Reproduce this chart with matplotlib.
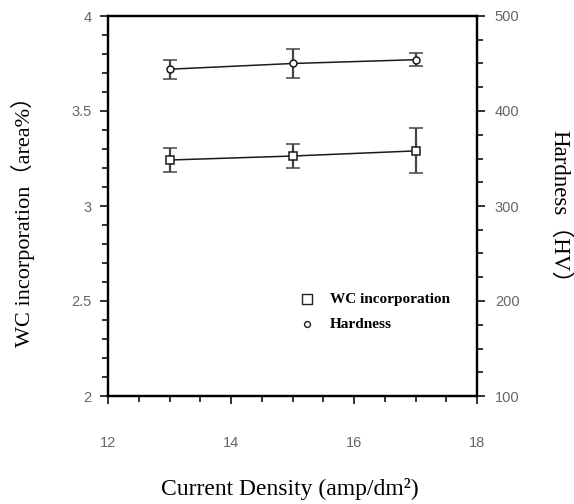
import matplotlib
matplotlib.use("Agg")
import matplotlib.pyplot as plt
from matplotlib.ticker import MultipleLocator, FuncFormatter

current = [13, 15, 17]
wc = [3.242, 3.263, 3.29]
wc_err = [0.063, 0.065, 0.118]
hardness = [444, 450, 454]
hardness_err = [10, 15, 7]

serif = ["Liberation Serif", "Noto Sans CJK SC"]
sans = "Liberation Sans"

W, H = 574, 504
fig = plt.figure(figsize=(W/100, H/100), dpi=100)
ax = fig.add_axes([108/W, 1 - 396/H, (477-108)/W, (396-16)/H])
ax2 = ax.twinx()

ax.errorbar(current, wc, yerr=wc_err, fmt='s', ms=6, mfc='white', mec='#1a1a1a', mew=1.1,
            ecolor='#444444', elinewidth=1.6, capsize=5, capthick=1.8, zorder=3, linestyle='none')
ax.plot(current, wc, color='#1a1a1a', lw=1.1, zorder=2)
ax2.errorbar(current, hardness, yerr=hardness_err, fmt='o', ms=5, mfc='white', mec='#1a1a1a', mew=1.1,
             ecolor='#444444', elinewidth=1.6, capsize=5, capthick=1.8, zorder=3, linestyle='none')
ax2.plot(current, hardness, color='#1a1a1a', lw=1.1, zorder=2)

ax.set_xlim(12, 18)
ax.set_ylim(2, 4)
ax2.set_ylim(100, 500)
ax.xaxis.set_major_locator(MultipleLocator(2))
ax.xaxis.set_minor_locator(MultipleLocator(0.5))
ax.yaxis.set_major_locator(MultipleLocator(0.5))
ax.yaxis.set_minor_locator(MultipleLocator(0.1))
ax2.yaxis.set_major_locator(MultipleLocator(100))
ax2.yaxis.set_minor_locator(MultipleLocator(25))
fmt = FuncFormatter(lambda v, p: "%g" % v)
ax.yaxis.set_major_formatter(fmt)
ax.xaxis.set_major_formatter(fmt)
ax2.yaxis.set_major_formatter(fmt)

for a in (ax, ax2):
    for s in a.spines.values():
        s.set_linewidth(1.6)
        s.set_color('black')
    a.tick_params(which='both', direction='out', color='#333333', width=1.4,
                  labelcolor='#666666', labelsize=10.5)
    a.tick_params(which='major', length=5.8)
    a.tick_params(which='minor', length=4.3)
ax.tick_params(axis='x', pad=23)
ax.tick_params(axis='y', pad=6)
ax2.tick_params(axis='y', pad=7)
for lab in ax.get_xticklabels() + ax.get_yticklabels() + ax2.get_yticklabels():
    lab.set_family(sans)

fig.text(290/W, 1 - 489/H, "Current Density (amp/dm²)", family=serif, fontsize=17,
         ha='center', va='center')
fig.text(23/W, 1 - 216/H, "WC incorporation（area%）", family=serif, fontsize=16,
         ha='center', va='center', rotation=90)
fig.text(559/W, 1 - 212/H, "Hardness（HV）", family=serif, fontsize=16.5,
         ha='center', va='center', rotation=270)

h1 = ax.scatter([], [], marker='s', s=45, facecolor='white', edgecolor='#222222', linewidths=1)
h2 = ax.scatter([], [], marker='o', s=18, facecolor='white', edgecolor='#222222', linewidths=1)
leg = ax.legend([h1, h2], ["WC incorporation", "Hardness"], loc='upper left',
                bbox_to_anchor=((299 - 108)/369, (396 - 292)/380), frameon=False,
                prop={'family': serif, 'size': 11, 'weight': 'bold'},
                handlelength=1.0, handletextpad=1.0, labelspacing=0.75, borderpad=0,
                borderaxespad=0)

fig.savefig("out.png", dpi=100)
